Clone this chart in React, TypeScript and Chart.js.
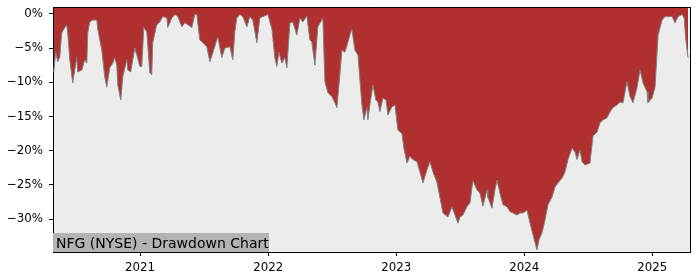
import React, { useEffect, useRef } from "react";
import { Chart, registerables } from "chart.js";

Chart.register(...registerables);

// Dates as fractional years
const dates = [
  2020.326, 2020.341, 2020.357, 2020.373, 2020.388, 2020.412, 2020.427, 2020.435, 2020.451, 2020.474,
  2020.505, 2020.513, 2020.545, 2020.568, 2020.584, 2020.591, 2020.607, 2020.630, 2020.662, 2020.670,
  2020.701, 2020.724, 2020.740, 2020.763, 2020.787, 2020.802, 2020.818, 2020.826, 2020.849, 2020.865,
  2020.896, 2020.904, 2020.927, 2020.943, 2020.959, 2020.974, 2020.998, 2021.013, 2021.029, 2021.052,
  2021.076, 2021.091, 2021.099, 2021.130, 2021.154, 2021.177, 2021.209, 2021.216, 2021.248, 2021.271,
  2021.295, 2021.326, 2021.349, 2021.373, 2021.404, 2021.427, 2021.443, 2021.466, 2021.490, 2021.521,
  2021.545, 2021.568, 2021.599, 2021.607, 2021.638, 2021.662, 2021.701, 2021.724, 2021.740, 2021.755,
  2021.779, 2021.802, 2021.834, 2021.857, 2021.880, 2021.912, 2021.935, 2021.959, 2021.998, 2022.030,
  2022.052, 2022.068, 2022.084, 2022.107, 2022.130, 2022.146, 2022.170, 2022.193, 2022.224, 2022.248,
  2022.271, 2022.302, 2022.326, 2022.341, 2022.365, 2022.388, 2022.427, 2022.443, 2022.466, 2022.498,
  2022.521, 2022.537, 2022.560, 2022.576, 2022.599, 2022.615, 2022.638, 2022.654, 2022.677, 2022.701,
  2022.732, 2022.748, 2022.771, 2022.779, 2022.795, 2022.818, 2022.841, 2022.857, 2022.873, 2022.896,
  2022.920, 2022.935, 2022.966, 2022.990, 2023.013, 2023.045, 2023.060, 2023.084, 2023.107, 2023.130,
  2023.162, 2023.185, 2023.209, 2023.240, 2023.263, 2023.287, 2023.318, 2023.341, 2023.365, 2023.404,
  2023.435, 2023.459, 2023.482, 2023.498, 2023.521, 2023.552, 2023.576, 2023.599, 2023.630, 2023.654,
  2023.677, 2023.709, 2023.716, 2023.748, 2023.771, 2023.787, 2023.810, 2023.834, 2023.865, 2023.888,
  2023.912, 2023.943, 2023.966, 2023.990, 2024.021, 2024.045, 2024.068, 2024.099, 2024.115, 2024.138,
  2024.162, 2024.185, 2024.216, 2024.240, 2024.263, 2024.295, 2024.318, 2024.341, 2024.373, 2024.396,
  2024.412, 2024.435, 2024.451, 2024.474, 2024.513, 2024.537, 2024.568, 2024.591, 2024.615, 2024.646,
  2024.670, 2024.693, 2024.724, 2024.748, 2024.771, 2024.802, 2024.826, 2024.849, 2024.880, 2024.904,
  2024.927, 2024.959, 2024.966, 2024.998, 2025.021, 2025.045, 2025.076, 2025.099, 2025.154, 2025.177,
  2025.201, 2025.232, 2025.248, 2025.263, 2025.279,
];

// Drawdown in percent
const drawdown = [
  -8.5, -5.6, -7.0, -6.3, -2.8, -2.0, -1.6, -2.8, -6.7, -10.1,
  -6.4, -8.5, -8.2, -6.7, -7.2, -2.8, -1.2, -0.9, -0.9, -2.3,
  -5.3, -9.2, -10.7, -7.9, -7.2, -6.4, -7.5, -10.4, -12.6, -9.2,
  -6.7, -8.2, -8.5, -6.7, -5.0, -6.0, -7.7, -7.7, -2.0, -2.6,
  -8.6, -8.9, -4.2, -1.6, -1.2, -0.4, -0.6, -2.0, -0.6, -0.1,
  -0.4, -1.9, -1.3, -1.6, -2.0, -0.1, -0.1, -3.8, -4.2, -4.8,
  -7.0, -5.7, -3.8, -3.4, -6.4, -5.0, -4.8, -6.7, -2.6, -0.6,
  -0.1, -0.4, -1.9, -0.4, -0.9, -4.2, -0.6, -0.4, -0.1, -2.3,
  -6.4, -7.7, -5.6, -7.2, -6.4, -7.9, -1.3, -1.2, -3.1, -0.6,
  -1.2, -0.3, -3.8, -4.1, -7.5, -1.9, -0.6, -9.9, -11.5, -12.1,
  -13.0, -13.7, -8.9, -5.3, -5.6, -4.7, -3.1, -2.2, -5.3, -6.0,
  -13.3, -15.5, -13.7, -15.5, -13.2, -10.4, -12.6, -12.9, -14.3, -12.3,
  -12.6, -14.8, -13.6, -13.3, -17.0, -17.5, -19.6, -21.8, -20.8, -21.3,
  -21.6, -23.1, -24.7, -22.8, -21.6, -23.1, -24.6, -26.8, -29.1, -29.7,
  -28.2, -29.4, -30.6, -29.7, -29.4, -28.2, -27.6, -24.4, -25.7, -26.2,
  -28.1, -25.7, -26.8, -28.4, -25.7, -24.3, -26.2, -27.9, -28.2, -28.9,
  -29.1, -29.4, -29.1, -29.1, -28.7, -30.6, -32.3, -34.5, -33.0, -32.0,
  -30.1, -27.9, -26.8, -25.3, -24.7, -24.0, -23.1, -21.3, -19.6, -20.2,
  -21.3, -19.9, -21.6, -22.1, -21.8, -17.8, -17.3, -15.9, -15.5, -15.2,
  -14.3, -13.7, -13.3, -12.9, -13.0, -9.9, -12.1, -13.0, -10.8, -8.2,
  -10.1, -11.4, -13.0, -12.3, -10.7, -3.1, -0.9, -0.4, -0.4, -1.3,
  -0.4, -0.1, -0.6, -4.1, -6.4,
];

const xTickYears = [2021, 2022, 2023, 2024, 2025];
const yTickValues = [0, -5, -10, -15, -20, -25, -30];
const chartTitle = "NFG (NYSE) - Drawdown Chart";
const xMin = 2020.32;
const xMax = 2025.294;
const yMin = -34.8;
const yMax = 1.0;

const FONT = "'DejaVu Sans', 'Liberation Sans', sans-serif";

export default function App() {
  const ref = useRef<HTMLCanvasElement>(null);

  useEffect(() => {
    document.body.style.margin = "0";
    const canvas = ref.current;
    if (!canvas) return;

    const deco = {
      id: "deco",
      beforeDraw(chart: any) {
        const { ctx, chartArea: a } = chart;
        ctx.save();
        ctx.fillStyle = "#ffffff";
        ctx.fillRect(0, 0, chart.width, chart.height);
        ctx.fillStyle = "#ececec";
        ctx.fillRect(a.left, a.top, a.right - a.left, a.bottom - a.top);
        ctx.restore();
      },
      afterDraw(chart: any) {
        const { ctx, chartArea: a } = chart;
        ctx.save();
        // title box
        const boxH = 19;
        ctx.fillStyle = "#b3b3b3";
        ctx.fillRect(a.left, a.bottom - boxH, 216, boxH);
        ctx.fillStyle = "#000";
        ctx.font = `14px ${FONT}`;
        ctx.textBaseline = "alphabetic";
        ctx.textAlign = "left";
        ctx.fillText(chartTitle, a.left + 3, a.bottom - 4.5);
        // spines
        ctx.strokeStyle = "#000";
        ctx.lineWidth = 1;
        ctx.beginPath();
        ctx.moveTo(a.left, Math.round(a.top) + 0.5);
        ctx.lineTo(a.right, Math.round(a.top) + 0.5);
        ctx.moveTo(Math.round(a.right) + 0.5, a.top);
        ctx.lineTo(Math.round(a.right) + 0.5, a.bottom);
        ctx.stroke();
        ctx.restore();
      },
    };

    const chart = new Chart(canvas, {
      type: "line",
      data: {
        datasets: [
          {
            data: dates.map((d, i) => ({ x: d, y: drawdown[i] })),
            fill: "end",
            backgroundColor: "#b03030",
            borderColor: "#808080",
            borderWidth: 1,
            pointRadius: 0,
            tension: 0,
          },
        ],
      },
      options: {
        responsive: false,
        animation: false,
        devicePixelRatio: 1,
        layout: { padding: { top: 7, right: 10, left: 0, bottom: 0 } },
        plugins: { legend: { display: false }, tooltip: { enabled: false } },
        scales: {
          x: {
            type: "linear",
            min: xMin,
            max: xMax,
            afterBuildTicks: (s: any) => {
              s.ticks = xTickYears.map((v) => ({ value: v }));
            },
            afterFit: (s: any) => {
              s.height = 28;
              s.paddingLeft = 0;
              s.paddingRight = 0;
            },
            ticks: {
              callback: (v: any) => String(v),
              font: { family: FONT, size: 11.8 },
              color: "#000",
              padding: 5,
              maxRotation: 0,
              autoSkip: false,
            },
            grid: {
              drawOnChartArea: false,
              drawTicks: true,
              tickLength: 4,
              color: "#000",
              tickColor: "#000",
            },
            border: { display: true, color: "#000", width: 1 },
          },
          y: {
            type: "linear",
            min: yMin,
            max: yMax,
            afterBuildTicks: (s: any) => {
              s.ticks = yTickValues.map((v) => ({ value: v }));
            },
            afterFit: (s: any) => {
              s.width = 53;
              s.paddingTop = 0;
              s.paddingBottom = 0;
            },
            ticks: {
              callback: (v: any) => (v === 0 ? "0%" : "\u2212" + Math.abs(v) + "%"),
              font: { family: FONT, size: 11.8 },
              color: "#000",
              padding: 6,
              autoSkip: false,
            },
            grid: {
              drawOnChartArea: false,
              drawTicks: true,
              tickLength: 4,
              color: "#000",
              tickColor: "#000",
            },
            border: { display: true, color: "#000", width: 1 },
          },
        },
      },
      plugins: [deco],
    });

    return () => chart.destroy();
  }, []);

  return (
    <div style={{ position: "absolute", left: 0, top: 0, width: 700, height: 280 }}>
      <canvas ref={ref} width={700} height={280} style={{ width: 700, height: 280 }} />
    </div>
  );
}
